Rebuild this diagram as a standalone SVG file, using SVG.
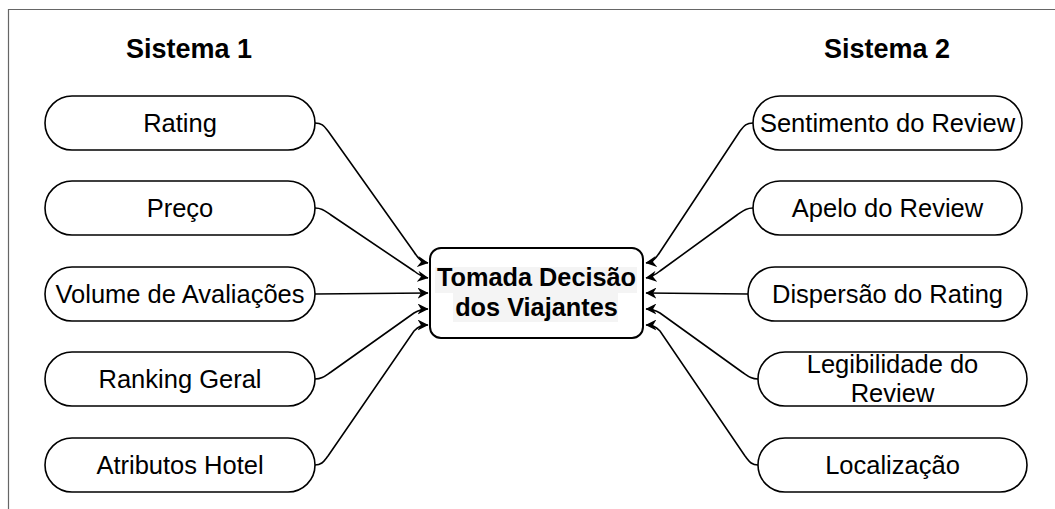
<svg xmlns="http://www.w3.org/2000/svg" width="1055" height="509" viewBox="0 0 1055 509">
<style>
.node rect{fill:#fff;stroke:#000;stroke-width:1.6}
.node text{font-family:"Liberation Sans",Arial,sans-serif;font-size:25.5px;fill:#000;text-anchor:middle}
.title{font-family:"Liberation Sans",Arial,sans-serif;font-size:27px;font-weight:bold;fill:#000;text-anchor:middle}
.center text{font-family:"Liberation Sans",Arial,sans-serif;font-size:25.3px;font-weight:bold;fill:#000;text-anchor:middle}
.edge{fill:none;stroke:#000;stroke-width:1.6;marker-end:url(#arr)}
</style>
<defs>
<marker id="arr" viewBox="0 0 10 10" refX="9.5" refY="5" markerWidth="11" markerHeight="11" markerUnits="userSpaceOnUse" orient="auto">
<path d="M0,0 L10,5 L0,10 L3,5 z" fill="#000"/>
</marker>
</defs>
<rect width="1055" height="509" fill="#fff"/>
<path d="M8.5,509 L8.5,9.5 L1055,9.5" fill="none" stroke="#666" stroke-width="1.2"/>
<text class="title" x="189" y="58">Sistema 1</text>
<text class="title" x="887" y="58">Sistema 2</text>
<g id="connectors">
<path class="edge" d="M315,123 C322,123 324,126 328,131 L414,252 C418,258 421,262 428,263"/>
<path class="edge" d="M315,208 C322,208 325,211 331,215 L414,271 C419,275 422,277 428,278"/>
<path class="edge" d="M315,294 L428,293"/>
<path class="edge" d="M315,379 C322,379 325,376 331,372 L414,313 C419,310 422,309 428,309"/>
<path class="edge" d="M315,465 C322,465 324,461 328,456 L414,331 C418,327 421,325 428,325"/>
<path class="edge" d="M753,123 C746,123 744,126 740,131 L660,252 C656,258 653,262 646,263"/>
<path class="edge" d="M753,208 C746,208 743,211 737,215 L660,271 C655,275 652,277 646,278"/>
<path class="edge" d="M748,294 L646,293"/>
<path class="edge" d="M758,379 C751,379 748,376 742,372 L660,313 C655,310 652,309 646,309"/>
<path class="edge" d="M758,465 C751,465 749,461 745,456 L660,331 C656,327 653,325 646,325"/>
</g>
<g id="n-center" class="center">
<rect x="430" y="248" width="213" height="90" rx="11" fill="#fff" stroke="#000" stroke-width="2"/>
<rect x="435" y="267" width="202" height="26" fill="#f4f4f4"/>
<rect x="453" y="293" width="165" height="29" fill="#f4f4f4"/>
<text x="536.5" y="286">Tomada Decisão</text>
<text x="536.5" y="316">dos Viajantes</text>
</g>
<g id="n-rating" class="node"><rect x="45" y="96" width="270" height="54" rx="27"/><text x="180" y="132">Rating</text></g>
<g id="n-preco" class="node"><rect x="45" y="181" width="270" height="54" rx="27"/><text x="180" y="217">Preço</text></g>
<g id="n-volume" class="node"><rect x="45" y="267" width="270" height="54" rx="27"/><text x="180" y="303">Volume de Avaliações</text></g>
<g id="n-ranking" class="node"><rect x="45" y="352" width="270" height="54" rx="27"/><text x="180" y="388">Ranking Geral</text></g>
<g id="n-atributos" class="node"><rect x="45" y="438" width="270" height="54" rx="27"/><text x="180" y="474">Atributos Hotel</text></g>
<g id="n-sentimento" class="node"><rect x="753" y="96" width="269" height="54" rx="27"/><text x="887.5" y="132">Sentimento do Review</text></g>
<g id="n-apelo" class="node"><rect x="753" y="181" width="269" height="54" rx="27"/><text x="887.5" y="217">Apelo do Review</text></g>
<g id="n-dispersao" class="node"><rect x="748" y="267" width="279" height="54" rx="27"/><text x="887.5" y="303">Dispersão do Rating</text></g>
<g id="n-legibilidade" class="node"><rect x="758" y="352" width="269" height="54" rx="27"/><text x="892.5" y="373">Legibilidade do</text><text x="892.5" y="402">Review</text></g>
<g id="n-localizacao" class="node"><rect x="758" y="438" width="269" height="54" rx="27"/><text x="892.5" y="474">Localização</text></g>
</svg>
